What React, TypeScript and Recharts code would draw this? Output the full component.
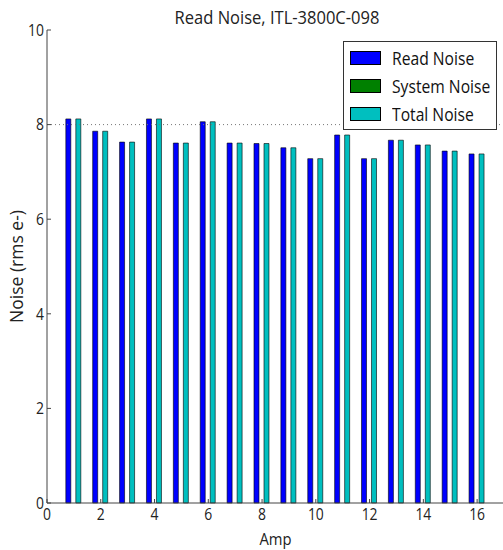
import React from 'react';
import {
  BarChart,
  Bar,
  XAxis,
  YAxis,
  ReferenceLine,
  Legend,
} from 'recharts';

// Amplifier channel numbers
const amps: number[] = [1, 2, 3, 4, 5, 6, 7, 8, 9, 10, 11, 12, 13, 14, 15, 16];
// Noise per amplifier, rms electrons
const readNoise: number[] = [8.12, 7.86, 7.63, 8.12, 7.61, 8.06, 7.61, 7.6, 7.51, 7.28, 7.78, 7.28, 7.67, 7.57, 7.44, 7.38];
const systemNoise: number[] = [0, 0, 0, 0, 0, 0, 0, 0, 0, 0, 0, 0, 0, 0, 0, 0];
const totalNoise: number[] = [8.12, 7.86, 7.63, 8.12, 7.61, 8.06, 7.61, 7.6, 7.51, 7.28, 7.78, 7.28, 7.67, 7.57, 7.44, 7.38];

const xTicks: number[] = [0, 2, 4, 6, 8, 10, 12, 14, 16];
const yTicks: number[] = [0, 2, 4, 6, 8, 10];
const specLevel = 8;

const data = amps.map((amp, i) => ({
  amp,
  read: readNoise[i],
  system: systemNoise[i],
  total: totalNoise[i],
}));

const FONT = '"Open Sans", "DejaVu Sans", sans-serif';
const AXIS = '#444';
const TEXT = '#222';
// horizontal squeeze applied to upright text
const SX = 0.87;

const XTick = (p: any) => (
  <text
    x={0}
    y={0}
    dy="0.72em"
    transform={`translate(${p.x},${p.y}) scale(${SX},1)`}
    textAnchor="middle"
    fontSize={16}
    fill={TEXT}
    fontFamily={FONT}
  >
    {p.payload.value}
  </text>
);

const YTick = (p: any) => (
  <text
    x={0}
    y={0}
    dy="0.36em"
    transform={`translate(${p.x},${p.y}) scale(${SX},1)`}
    textAnchor="end"
    fontSize={16}
    fill={TEXT}
    fontFamily={FONT}
  >
    {p.payload.value}
  </text>
);

const AmpLabel = (p: any) => {
  const vb = p.viewBox || { x: 0, y: 0, width: 0, height: 0 };
  const cx = vb.x + vb.width / 2;
  return (
    <text
      x={0}
      y={0}
      transform={`translate(${cx},${vb.y + 42}) scale(${SX},1)`}
      textAnchor="middle"
      fontSize={17}
      fill={TEXT}
      fontFamily={FONT}
    >
      Amp
    </text>
  );
};

const LegendBox = (props: any) => {
  const items = props.payload || [];
  return (
    <div
      style={{
        border: '1px solid #333',
        background: '#fff',
        padding: '2px 4px 3px 6px',
        fontFamily: FONT,
        fontSize: 18,
        color: '#111',
        boxSizing: 'border-box',
        width: 154,
        height: 89,
        whiteSpace: 'nowrap',
      }}
    >
      {items.map((it: any) => (
        <div key={it.value} style={{ display: 'flex', alignItems: 'center', height: 28 }}>
          <span
            style={{
              display: 'inline-block',
              width: 29,
              height: 12,
              background: it.color,
              border: '1px solid #000',
              marginRight: 11,
              flexShrink: 0,
            }}
          />
          <span style={{ display: 'inline-block', transform: `scaleX(${SX})`, transformOrigin: 'left center' }}>
            {it.value}
          </span>
        </div>
      ))}
    </div>
  );
};

export default function App() {
  return (
    <div style={{ position: 'fixed', left: 0, top: 0, width: 503, height: 550, overflow: 'hidden', background: '#fff' }}>
      <svg width={503} height={30} style={{ position: 'absolute', left: 0, top: 0, zIndex: 2 }}>
        <text
          x={0}
          y={0}
          transform={`translate(277,24) scale(${SX},1)`}
          textAnchor="middle"
          fontSize={19}
          fill={TEXT}
          fontFamily={FONT}
        >
          Read Noise, ITL-3800C-098
        </text>
      </svg>
      <BarChart
        width={520}
        height={550}
        data={data}
        margin={{ top: 30, right: 16, bottom: 0, left: 0 }}
        barCategoryGap="20%"
        barGap={0}
        style={{ fontFamily: FONT }}
      >
        <XAxis
          dataKey="amp"
          type="number"
          domain={[0, 17]}
          ticks={xTicks}
          allowDataOverflow
          height={47}
          tickSize={-4}
          tickMargin={9}
          interval={0}
          stroke={AXIS}
          tick={<XTick />}
          label={<AmpLabel />}
        />
        <XAxis
          xAxisId="top"
          dataKey="amp"
          type="number"
          orientation="top"
          domain={[0, 17]}
          ticks={xTicks}
          allowDataOverflow
          height={0}
          tickSize={-4}
          tick={false}
          stroke={AXIS}
        />
        <YAxis
          type="number"
          domain={[0, 10]}
          ticks={yTicks}
          width={47}
          tickSize={-4}
          tickMargin={7}
          interval={0}
          stroke={AXIS}
          tick={<YTick />}
          label={{ value: 'Noise (rms e-)', angle: -90, position: 'insideLeft', offset: 17, fill: TEXT, fontSize: 17.5, style: { textAnchor: 'middle' } }}
        />
        <ReferenceLine y={specLevel} stroke="#777" strokeDasharray="1 3" />
        <Legend
          layout="horizontal"
          verticalAlign="middle"
          align="center"
          content={<LegendBox />}
          wrapperStyle={{ left: 343, top: 41, width: 154 }}
        />
        <Bar dataKey="read" name="Read Noise" fill="#0000ff" stroke="#000" strokeWidth={0.6} isAnimationActive={false} />
        <Bar dataKey="system" name="System Noise" fill="#008000" stroke="#000" strokeWidth={0.6} isAnimationActive={false} />
        <Bar dataKey="total" name="Total Noise" fill="#00bfbf" stroke="#000" strokeWidth={0.6} isAnimationActive={false} />
      </BarChart>
    </div>
  );
}
